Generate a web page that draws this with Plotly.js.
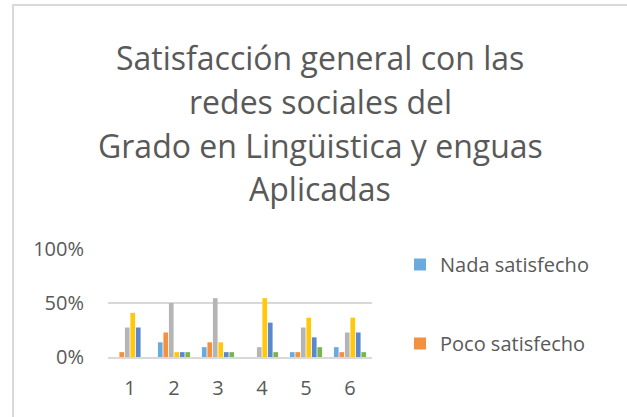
<!DOCTYPE html>
<html>
<head>
<meta charset="utf-8">
<script src="https://cdn.plot.ly/plotly-3.0.1.min.js"></script>
<style>
html,body{margin:0;padding:0;background:#fff;}
#chart{width:627px;height:417px;}
</style>
</head>
<body>
<div id="chart"></div>
<script>
var categories = ['1','2','3','4','5','6'];
var seriesNames = ['Nada satisfecho','Poco satisfecho','Serie 3','Serie 4','Serie 5','Serie 6'];
var nadaSatisfecho  = [0, 0.136, 0.091, 0, 0.045, 0.091];
var pocoSatisfecho  = [0.045, 0.227, 0.136, 0, 0.045, 0.045];
var serie3          = [0.273, 0.5, 0.545, 0.091, 0.273, 0.227];
var serie4          = [0.409, 0.045, 0.136, 0.545, 0.364, 0.364];
var serie5          = [0.273, 0.045, 0.045, 0.318, 0.182, 0.227];
var serie6          = [0, 0.045, 0.045, 0.045, 0.091, 0.045];
var titleLines = ['Satisfacción general con las','redes sociales del','Grado en Lingüistica y enguas','Aplicadas'];

var allSeries = [nadaSatisfecho, pocoSatisfecho, serie3, serie4, serie5, serie6];
var colors = ['#6AAADD','#F4913F','#B5B5B5','#FFC80A','#5A88D0','#7AB350'];
var FONT = '"Open Sans", sans-serif';
var TXT = '#595959';

var traces = allSeries.map(function(vals, i){
  return {
    type:'bar', x:categories, y:vals, name:seriesNames[i],
    marker:{color:colors[i]},
    showlegend: i < 2,
    legendgroup: 'g'+i,
    hoverinfo:'skip'
  };
});

// plot area: x 108..372, y 249..357
var L=108, R=372, T=249, B=357;
function py(pix){ return (B - pix)/(B - T); }
function px(pix){ return (pix - L)/(R - L); }

var titleY = [57, 101, 145, 188];
var annotations = titleLines.map(function(t, i){
  return {text:t, xref:'paper', yref:'paper', x:px(320), y:py(titleY[i]),
    xanchor:'center', yanchor:'middle', showarrow:false,
    font:{family:FONT, size:32, color:TXT}};
});

var layout = {
  width:627, height:417,
  margin:{l:L, r:627-R, t:T, b:417-B, pad:0},
  paper_bgcolor:'#fff', plot_bgcolor:'#fff',
  barmode:'group', bargap:0.25, bargroupgap:0.15,
  font:{family:FONT, color:TXT, size:20},
  xaxis:{type:'category', showgrid:false, zeroline:false, showline:true,
    linecolor:'#d9d9d9', linewidth:2, ticks:'', ticklabelstandoff:12,
    tickfont:{size:20, color:TXT}},
  yaxis:{range:[0,1], dtick:0.5, tickformat:'.0%', showgrid:true,
    gridcolor:'#d9d9d9', gridwidth:2, zeroline:false, showline:false,
    ticks:'', ticklabelstandoff:23, tickfont:{size:20, color:TXT}},
  legend:{x:px(400), xanchor:'left', y:py(245), yanchor:'top',
    traceorder:'grouped', tracegroupgap:50,
    font:{size:20, color:TXT}, bgcolor:'rgba(0,0,0,0)'},
  annotations:annotations,
  shapes:[{type:'path', xref:'paper', yref:'paper',
    path:'M '+px(13)+' '+py(430)+' L '+px(13)+' '+py(5)+' L '+px(640)+' '+py(5),
    line:{color:'#d9d9d9', width:2}}]
};

Plotly.newPlot('chart', traces, layout, {displayModeBar:false, staticPlot:true});
</script>
</body>
</html>
